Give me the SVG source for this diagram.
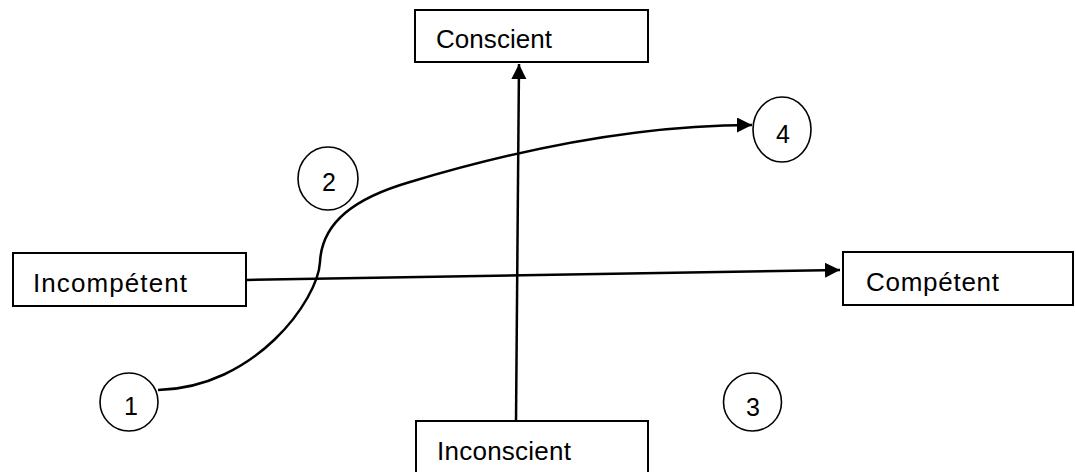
<svg xmlns="http://www.w3.org/2000/svg" width="1076" height="472" viewBox="0 0 1076 472">
<style>
.box{fill:#fff;stroke:#000;stroke-width:2}
.circ{fill:#fff;stroke:#000;stroke-width:1.6}
.lbl{font-family:"Liberation Sans",Arial,sans-serif;font-size:26px;fill:#000}
.num{font-family:"Liberation Sans",Arial,sans-serif;font-size:25px;fill:#000;text-anchor:middle}
.conn{fill:none;stroke:#000;stroke-width:2.5}
</style>
<defs>
<marker id="arr" markerWidth="16" markerHeight="16" refX="15" refY="7.5" orient="auto" markerUnits="userSpaceOnUse">
<path d="M0,0 L15,7.5 L0,15 Z" fill="#000"/>
</marker>
</defs>
<rect width="1076" height="472" fill="#fff"/>
<g id="connectors">
<path class="conn" d="M516,421 L519,64" marker-end="url(#arr)"/>
<path class="conn" d="M246,280 L840,270" marker-end="url(#arr)"/>
<path class="conn" d="M158,390 C255,388 318,300 320,262 C322,222 355,198 410,182 C490,158 620,125 752,125" marker-end="url(#arr)"/>
</g>
<g id="conscient">
<rect class="box" x="415" y="10" width="233" height="52"/>
<text class="lbl" x="436" y="48" textLength="116">Conscient</text>
</g>
<g id="inconscient">
<rect class="box" x="416" y="421" width="232" height="60"/>
<text class="lbl" x="437" y="460" textLength="134">Inconscient</text>
</g>
<g id="incompetent">
<rect class="box" x="13" y="253" width="233" height="53"/>
<text class="lbl" x="33" y="292" textLength="154">Incompétent</text>
</g>
<g id="competent">
<rect class="box" x="843" y="252" width="230" height="53"/>
<text class="lbl" x="866" y="291" textLength="133">Compétent</text>
</g>
<g id="n1">
<ellipse class="circ" cx="129" cy="402" rx="29" ry="29"/>
<text class="num" x="131" y="415">1</text>
</g>
<g id="n2">
<ellipse class="circ" cx="328" cy="178.5" rx="30" ry="31.5"/>
<text class="num" x="329" y="191">2</text>
</g>
<g id="n3">
<ellipse class="circ" cx="752.5" cy="402" rx="29" ry="29"/>
<text class="num" x="753" y="416">3</text>
</g>
<g id="n4">
<ellipse class="circ" cx="782" cy="129.5" rx="29" ry="32.5"/>
<text class="num" x="783" y="143">4</text>
</g>
</svg>
